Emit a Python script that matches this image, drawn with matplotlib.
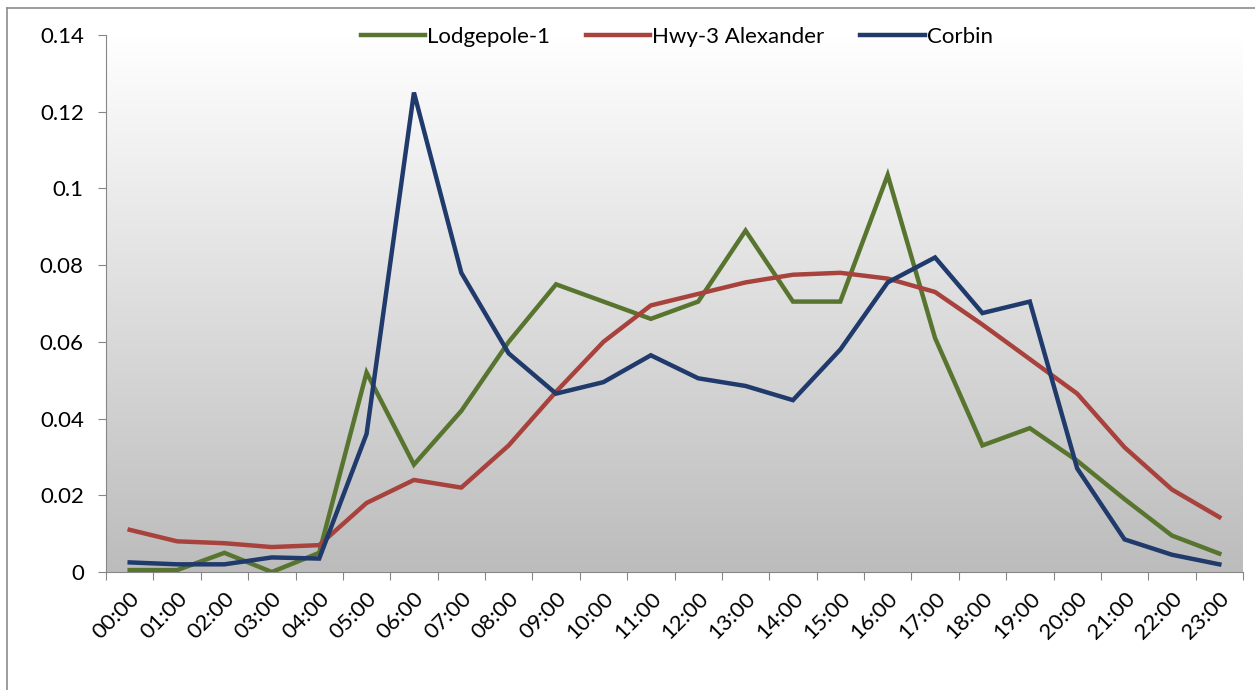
import numpy as np
import matplotlib
matplotlib.use("Agg")
import matplotlib.pyplot as plt
from matplotlib.lines import Line2D

# hourly share of traffic
hours = ["%02d:00" % h for h in range(24)]
lodgepole = [0.0005, 0.0005, 0.005, 0.0, 0.005, 0.052, 0.028, 0.042, 0.060, 0.075,
             0.0705, 0.066, 0.0705, 0.089, 0.0705, 0.0705, 0.1035, 0.061, 0.033, 0.0375,
             0.029, 0.019, 0.0095, 0.0048]
hwy3 = [0.011, 0.008, 0.0075, 0.0065, 0.007, 0.018, 0.024, 0.022, 0.033, 0.047,
        0.060, 0.0695, 0.0725, 0.0755, 0.0775, 0.078, 0.0765, 0.073, 0.0645, 0.0555,
        0.0465, 0.0325, 0.0215, 0.0143]
corbin = [0.0025, 0.002, 0.002, 0.0038, 0.0035, 0.036, 0.125, 0.078, 0.057, 0.0465,
          0.0495, 0.0565, 0.0505, 0.0485, 0.0448, 0.058, 0.0755, 0.082, 0.0675, 0.0705,
          0.027, 0.0085, 0.0045, 0.002]

plt.rcParams['font.family'] = ['Lato', 'DejaVu Sans']
fs = 16

fig = plt.figure(figsize=(12.55, 6.9), dpi=100)
ax = fig.add_axes([106/1255, 1 - 572/690, (1243 - 106)/1255, (572 - 35)/690])

x = np.arange(len(hours))
ax.set_xlim(-0.5, 23.5)
ax.set_ylim(0, 0.14)

# gradient background, white at top to grey at bottom
grad = np.linspace(1, 0, 256).reshape(-1, 1)
ax.imshow(grad, extent=[0, 1, 0, 1], transform=ax.transAxes, aspect='auto',
          cmap=matplotlib.colors.LinearSegmentedColormap.from_list('g', ['#bcbcbc', '#ffffff']),
          zorder=0)

green = '#587530'
red = '#a8423d'
blue = '#1f3a6b'
ax.plot(x, lodgepole, color=green, lw=3.2, label='Lodgepole-1', zorder=3, solid_joinstyle='miter')
ax.plot(x, hwy3, color=red, lw=3.2, label='Hwy-3 Alexander', zorder=3)
ax.plot(x, corbin, color=blue, lw=3.2, label='Corbin', zorder=3, solid_joinstyle='miter')

ax.set_yticks(np.arange(0, 0.141, 0.02))
ax.set_yticklabels(['0', '0.02', '0.04', '0.06', '0.08', '0.1', '0.12', '0.14'])
ax.set_xticks(np.arange(-0.5, 24, 1))
ax.set_xticklabels([])
ax.set_xticks(x, minor=True)
ax.set_xticklabels(hours, minor=True, rotation=45, ha='right', rotation_mode='anchor')
ax.tick_params(axis='x', which='minor', length=0, pad=12, labelsize=fs)
ax.tick_params(axis='x', which='major', length=6, color='#868686')
ax.tick_params(axis='y', length=6, color='#868686', labelsize=fs, pad=10)

for s in ['top', 'right']:
    ax.spines[s].set_visible(False)
for s in ['left', 'bottom']:
    ax.spines[s].set_color('#868686')

ax.legend(loc='upper center', bbox_to_anchor=(0.502, 1.052), ncol=3, frameon=False,
          fontsize=fs, handlelength=2.9, handletextpad=0.1, columnspacing=1.6)

# chart area frame (top and left edges visible)
fig.add_artist(Line2D([7/1255, 7/1255], [0, 1 - 8/690], color='#8c8c8c', lw=1.2))
fig.add_artist(Line2D([7/1255, 1], [1 - 8/690, 1 - 8/690], color='#8c8c8c', lw=1.2))

fig.savefig('out.png', dpi=100)
